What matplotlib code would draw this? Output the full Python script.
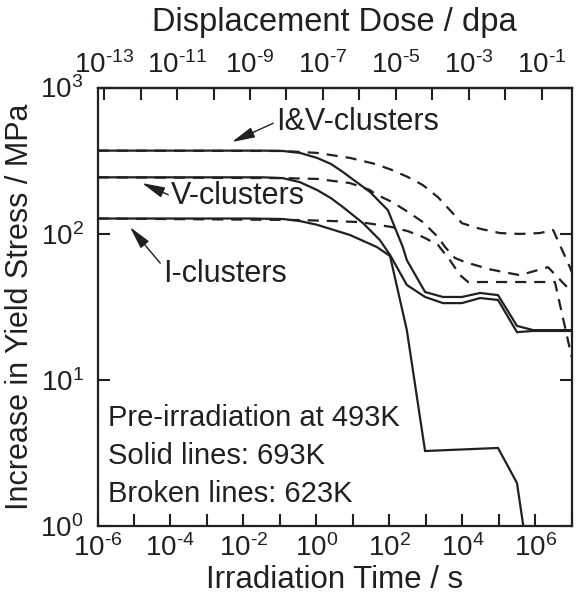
import numpy as np
import matplotlib
matplotlib.use("Agg")
import matplotlib.pyplot as plt
from matplotlib.ticker import FixedLocator, FuncFormatter, NullLocator

plt.rcParams['font.family'] = ['Liberation Sans', 'DejaVu Sans']
plt.rcParams['mathtext.fontset'] = 'custom'
plt.rcParams['mathtext.rm'] = 'Liberation Sans'
plt.rcParams['mathtext.it'] = 'Liberation Sans:italic'
plt.rcParams['mathtext.bf'] = 'Liberation Sans:bold'

INK = '#231f20'

# ---- data (log10 of irradiation time in s, yield stress increase in MPa) ----
iv_693_logt = [-6, -1.46, -0.92, -0.45, 0.02, 0.40, 0.73, 1.28, 1.47, 1.96, 2.37, 2.48, 2.98, 3.47, 3.99, 4.49, 4.98, 5.50, 5.94, 7.0]
iv_693 = [370, 370, 368, 357, 330, 300, 264, 209, 193, 145, 81, 66, 39.9, 36.9, 36.9, 39.3, 38.0, 23.4, 21.9, 21.9]

v_693_logt = [-6, -1.46, -0.92, -0.45, 0.02, 0.40, 0.73, 1.28, 1.74, 2.02, 2.48, 2.98, 3.47, 3.99, 4.49, 4.98, 5.50, 5.94, 7.0]
v_693 = [243, 243, 240, 225, 199, 175, 152, 118, 90.5, 71.5, 44.6, 36.9, 33.5, 33.5, 36.3, 35.2, 21.2, 21.6, 21.6]

i_693_logt = [-6, -1.82, -0.92, -0.45, 0.02, 0.92, 1.66, 2.02, 2.48, 2.98, 4.98, 5.50, 5.75]
i_693 = [127, 127, 126, 122, 115, 98, 81, 70.3, 21.9, 3.26, 3.42, 1.97, 0.74]

iv_623_logt = [-6, -0.92, 0.02, 0.92, 1.61, 2.07, 2.51, 2.92, 3.33, 3.66, 3.99, 4.49, 5.03, 5.58, 6.13, 6.49, 6.95, 7.0]
iv_623 = [370, 368, 357, 330, 300, 273, 244, 215, 178, 145, 118, 108, 101, 99.6, 101, 106, 59, 54.7]

v_623_logt = [-6, -0.92, 0.02, 0.92, 1.47, 1.61, 2.07, 2.51, 2.92, 3.33, 3.53, 3.80, 4.07, 4.76, 5.58, 6.35, 6.87, 7.0]
v_623 = [243, 240, 237, 222, 199, 187, 165, 141, 120, 95, 81, 68.2, 64, 57, 52, 59, 43.2, 41.2]

i_623_logt = [-6, -0.45, 0.46, 1.20, 1.69, 2.07, 2.51, 2.92, 3.33, 3.66, 3.94, 4.16, 6.54, 7.0]
i_623 = [127, 124, 122, 120, 115, 111, 104, 95, 84, 66, 52, 46.7, 46.7, 14.3]

dpa_per_s = 10 ** -7.18  # displacement dose rate relating the two x axes

x_label_exps = [-6, -4, -2, 0, 2, 4, 6]
top_label_exps = [-13, -11, -9, -7, -5, -3, -1]
y_label_exps = [0, 1, 2, 3]

series = [
    (iv_693_logt, iv_693, '-'),
    (v_693_logt, v_693, '-'),
    (i_693_logt, i_693, '-'),
    (iv_623_logt, iv_623, '--'),
    (v_623_logt, v_623, '--'),
    (i_623_logt, i_623, '--'),
]

fig = plt.figure(figsize=(5.78, 6.04), dpi=100)
ax = fig.add_axes([0.1687, 0.1291, 0.8204, 0.7260])

for lt, vals, ls in series:
    t = 10 ** np.array(lt, dtype=float)
    if ls == '-':
        ax.plot(t, vals, color=INK, lw=1.6, solid_joinstyle='miter')
    else:
        ax.plot(t, vals, color=INK, lw=1.6, dashes=(5, 3.6))

ax.set_xscale('log')
ax.set_yscale('log')
ax.set_xlim(1e-6, 1e7)
ax.set_ylim(1, 1e3)

def pow_fmt(allowed):
    def f(v, pos):
        e = int(round(np.log10(v)))
        if e in allowed:
            sign = '\u2010' if e < 0 else ''
            return '$\\mathregular{10^{%s%d}}$' % (sign, abs(e))
        return ''
    return FuncFormatter(f)

ax.xaxis.set_major_locator(FixedLocator([10.0 ** e for e in range(-6, 8)]))
ax.xaxis.set_major_formatter(pow_fmt(x_label_exps))
ax.xaxis.set_minor_locator(NullLocator())
ax.yaxis.set_major_locator(FixedLocator([10.0 ** e for e in y_label_exps]))
ax.yaxis.set_major_formatter(pow_fmt(y_label_exps))
ax.yaxis.set_minor_locator(NullLocator())

ax.tick_params(axis='x', which='major', direction='in', length=8.8, width=1.5,
               labelsize=20, pad=6, colors=INK, bottom=True, top=False)
ax.tick_params(axis='y', which='major', direction='in', length=8.8, width=1.5,
               labelsize=20, pad=10, colors=INK, left=True, right=True)

for s in ax.spines.values():
    s.set_linewidth(1.6)
    s.set_color(INK)

sec = ax.secondary_xaxis('top', functions=(lambda t: t * dpa_per_s, lambda d: d / dpa_per_s))
sec.xaxis.set_major_locator(FixedLocator([10.0 ** e for e in range(-13, 0)]))
sec.xaxis.set_major_formatter(pow_fmt(top_label_exps))
sec.xaxis.set_minor_locator(NullLocator())
sec.tick_params(axis='x', which='major', direction='in', length=8.8, width=1.5,
                labelsize=20, pad=6, colors=INK)
sec.spines['top'].set_linewidth(1.6)
sec.spines['top'].set_color(INK)
sec.set_xlabel('Displacement Dose / dpa', fontsize=23.5, color=INK, labelpad=15)

ax.set_xlabel('Irradiation Time / s', fontsize=22.5, color=INK, labelpad=2)
ax.set_ylabel('Increase in Yield Stress / MPa', fontsize=22, color=INK, labelpad=4)

arrow = dict(arrowstyle='-|>,head_length=1.4,head_width=0.33', color=INK, lw=1.0,
             shrinkA=0, shrinkB=0, mutation_scale=10)
ax.annotate('I&V-clusters', xy=(4.86e-3, 424), xytext=(0.078, 581), ha='left', va='center',
            fontsize=22, color=INK, arrowprops=dict(arrow, relpos=(0, 0.5)))
ax.annotate('V-clusters', xy=(1.66e-5, 222), xytext=(1.04e-4, 181), ha='left', va='center',
            fontsize=22, color=INK, arrowprops=dict(arrow, relpos=(0, 0.5)))
ax.annotate('I-clusters', xy=(7.78e-6, 111), xytext=(6.25e-5, 53), ha='left', va='center',
            fontsize=22, color=INK, arrowprops=dict(arrow, relpos=(0, 0.75)))

notes = ['Pre-irradiation at 493K', 'Solid lines: 693K', 'Broken lines: 623K']
for i, s in enumerate(notes):
    ax.text(0.022, 0.246 - i * 0.0865, s, transform=ax.transAxes, ha='left', va='center',
            fontsize=21, color=INK)

fig.savefig('out.png', dpi=100)
